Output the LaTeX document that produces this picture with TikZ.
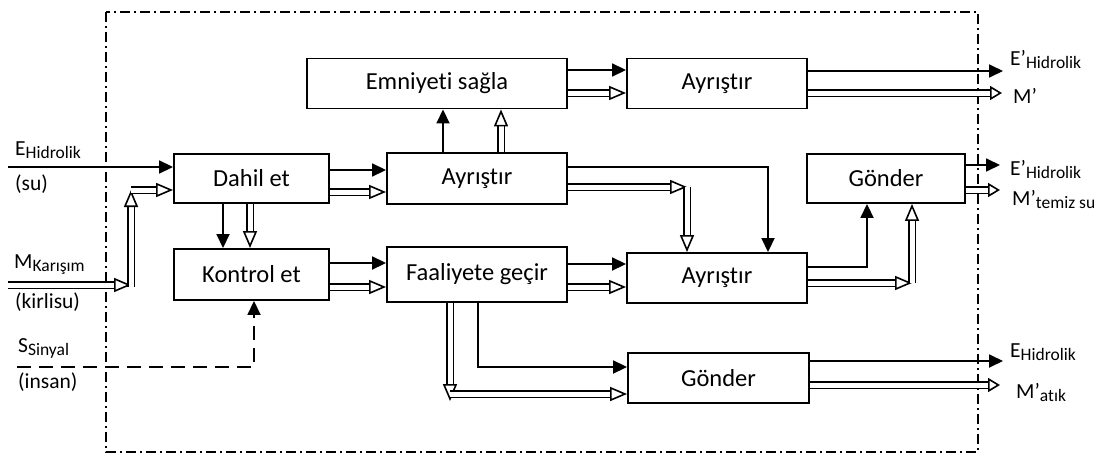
\documentclass[tikz,border=0pt]{standalone}
\usepackage{fontspec}
\setmainfont{Carlito}[Ligatures=NoCommon]
\usetikzlibrary{arrows.meta,calc}
\newcommand{\sbs}[1]{\raisebox{-3pt}{\fontsize{17.5}{18}\selectfont #1}}
\begin{document}
\begin{tikzpicture}[x=1pt,y=-1pt,
  box/.style={draw, line width=1.9pt, inner sep=0pt, font=\fontsize{24.5}{28}\selectfont},
  fil/.style={line width=1.8pt, -{Triangle[length=14pt,width=13pt]}},
  hol/.style={line width=1.6pt, double=white, double distance=5pt, -{Triangle[open,length=17pt,width=14pt,line width=1.6pt]}},
  holS/.style={line width=1.6pt, double=white, double distance=5pt, -{Triangle[open,length=12pt,width=14pt,line width=1.6pt]}},
  lbl/.style={anchor=base west, inner sep=0pt, font=\fontsize{21.5}{24}\selectfont},
  bnd/.style={line width=1.5pt, dash pattern=on 10pt off 4pt on 2pt off 4pt},
  sig/.style={line width=1.8pt, dash pattern=on 14pt off 8pt, -{Triangle[length=14pt,width=13pt]}}
]
\useasboundingbox (0,0) rectangle (1105,455);
\fill[white] (0,0) rectangle (1105,455);
\draw[bnd] (106,12) rectangle (978,452);

% boxes
\node[box, minimum width=260pt, minimum height=50pt] (emn) at (437,83.5) {Emniyeti sağla};
\node[box, minimum width=180pt, minimum height=50pt] (ayr1) at (717,83.5) {Ayrıştır};
\node[box, minimum width=180pt, minimum height=51pt] (ayr2) at (477,178.5) {Ayrıştır};
\node[box, minimum width=155pt, minimum height=49pt] (dahil) at (251.5,178.5) {Dahil et};
\node[box, minimum width=155pt, minimum height=51pt] (kontrol) at (251.5,274.5) {Kontrol et};
\node[box, minimum width=180pt, minimum height=55pt] (faal) at (477,274.5) {Faaliyete geçir};
\node[box, minimum width=180pt, minimum height=50pt] (ayr3) at (717,278) {Ayrıştır};
\node[box, minimum width=158pt, minimum height=49pt] (gon1) at (886,178.5) {Gönder};
\node[box, minimum width=181pt, minimum height=50pt] (gon2) at (718.5,378) {Gönder};

% inputs
\coordinate (inE) at (8,167);
\coordinate (inM) at (8,285);
\coordinate (mc) at (131,285);
\coordinate (mt) at (131,190);
\coordinate (inS) at (17,367);
\draw[fil] (inE) -- (inE -| dahil.west);
\draw[hol] (inM) -- (mc);
\draw[hol] ([yshift=-2pt]mc) -- (mt);
\draw[hol] (mt) -- (mt -| dahil.west);
\draw[sig] (inS) -| ([xshift=2.5pt]kontrol.south);

% dahil -> kontrol
\draw[fil] ([xshift=-28.5pt]dahil.south) -- ([xshift=-28.5pt]kontrol.north);
\draw[hol] ([xshift=-1.5pt]dahil.south) -- ([xshift=-1.5pt]kontrol.north);
% dahil -> ayr2
\draw[fil] ([yshift=8.5pt]dahil.east) -- ([yshift=8.5pt]ayr2.west);
\draw[hol] ([yshift=-13.5pt]dahil.east) -- ([yshift=-13.5pt]ayr2.west);
% kontrol -> faal
\draw[fil] ([yshift=11.5pt]kontrol.east) -- ([yshift=11.5pt]faal.west);
\draw[hol] ([yshift=-12.5pt]kontrol.east) -- ([yshift=-12.5pt]faal.west);
% ayr2 -> emn
\coordinate (a2f) at ([xshift=-34pt]ayr2.north);
\coordinate (a2h) at ([xshift=24pt]ayr2.north);
\draw[fil] (a2f) -- (a2f |- emn.south);
\draw[hol] (a2h) -- (a2h |- emn.south);
% emn -> ayr1
\draw[fil] ([yshift=13.5pt]emn.east) -- ([yshift=13.5pt]ayr1.west);
\draw[hol] ([yshift=-9.5pt]emn.east) -- ([yshift=-9.5pt]ayr1.west);
% ayr1 outputs
\coordinate (o1) at (1003,71);
\coordinate (o2) at (1002,93);
\draw[fil] (ayr1.east |- o1) -- (o1);
\draw[holS] (ayr1.east |- o2) -- (o2);
% ayr2 -> ayr3
\coordinate (a2e) at ([yshift=11.5pt]ayr2.east);
\draw[fil] (a2e) -| ([xshift=51pt]ayr3.north);
\coordinate (a2g) at ([yshift=-8.5pt]ayr2.east);
\coordinate (a3n) at ([xshift=-30pt]ayr3.north);
\draw[hol] (a2g) -- (a2g -| a3n);
\draw[hol] (a2g -| a3n) -- (a3n);
% faal -> ayr3
\coordinate (f1) at ([yshift=10.5pt]faal.east);
\coordinate (f2) at ([yshift=-12.5pt]faal.east);
\draw[fil] (f1) -- (f1 -| ayr3.west);
\draw[hol] (f2) -- (f2 -| ayr3.west);
% ayr3 -> gon1
\coordinate (a3e1) at ([yshift=11pt]ayr3.east);
\draw[fil] (a3e1) -| ([xshift=-19pt]gon1.south);
\coordinate (a3e2) at ([yshift=-5pt]ayr3.east);
\coordinate (g1s) at ([xshift=26pt]gon1.south);
\draw[hol] (a3e2) -- (a3e2 -| g1s);
\draw[hol] (a3e2 -| g1s) -- (g1s);
% gon1 outputs
\coordinate (o3) at (1000,165);
\coordinate (o4) at (1000,190);
\draw[fil] (gon1.east |- o3) -- (o3);
\draw[holS] (gon1.east |- o4) -- (o4);
% faal -> gon2
\coordinate (fb1) at ([xshift=1pt]faal.south);
\draw[fil] (fb1) |- ([yshift=11pt]gon2.west);
\coordinate (fb2) at ([xshift=-27pt]faal.south);
\coordinate (g2w) at ([yshift=-16pt]gon2.west);
\coordinate (fk) at (fb2 |- g2w);
\draw[hol] (fb2) -- ([yshift=-7pt]fk);
\draw[hol] (fk) -- (g2w);
% gon2 outputs
\coordinate (o5) at (1003,361);
\coordinate (o6) at (1000,385);
\draw[fil] (gon2.east |- o5) -- (o5);
\draw[holS] (gon2.east |- o6) -- (o6);

% left labels
\node[lbl] (lE) at (15,155) {E\sbs{Hidrolik}};
\node[lbl] (lsu) at (15,190) {(su)};
\node[lbl] (lM) at (14,268) {M\sbs{Karışım}};
\node[lbl] (lkir) at (15,308) {(kirlisu)};
\node[lbl] (lS) at (18,352) {S\sbs{Sinyal}};
\node[lbl] (lins) at (18,388) {(insan)};
% right labels
\node[lbl] (rE1) at (1010,65) {E’\sbs{Hidrolik}};
\node[lbl] (rM1) at (1013,103) {M’};
\node[lbl] (rE2) at (1010,175) {E’\sbs{Hidrolik}};
\node[lbl] (rM2) at (1012,205) {M’\sbs{temiz su}};
\node[lbl] (rE3) at (1010,357) {E\sbs{Hidrolik}};
\node[lbl] (rM3) at (1016,398) {M’\sbs{atık}};
\end{tikzpicture}
\end{document}
